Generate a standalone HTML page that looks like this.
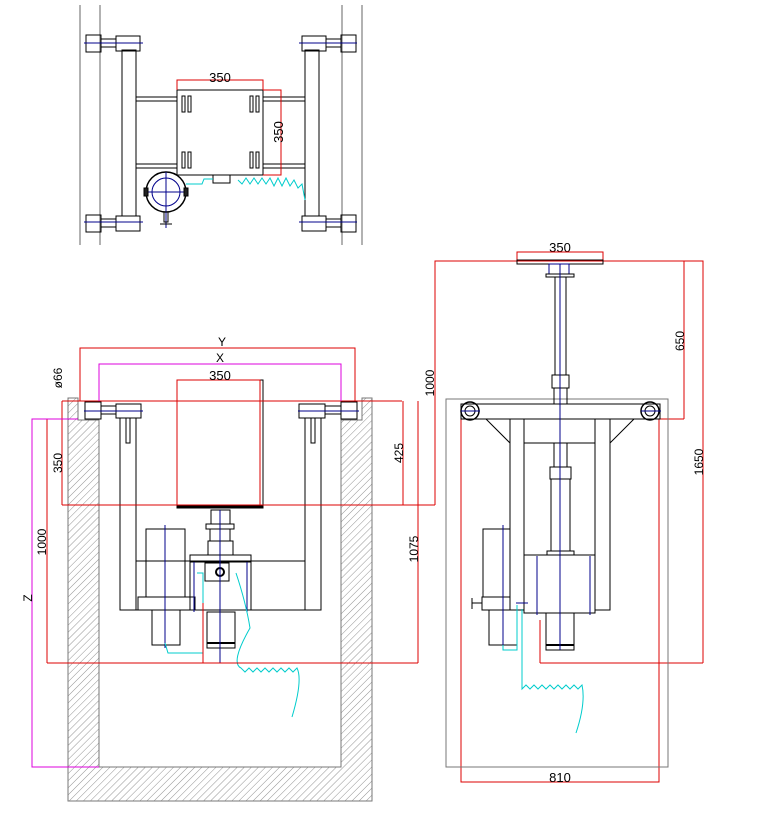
<!DOCTYPE html>
<html><head><meta charset="utf-8"><style>html,body{margin:0;padding:0;background:#fff}svg{display:block}</style></head><body>
<svg width="779" height="818" viewBox="0 0 779 818" xmlns="http://www.w3.org/2000/svg" font-family="Liberation Sans, sans-serif">
<defs>
<pattern id="h" width="5" height="5" patternUnits="userSpaceOnUse" patternTransform="rotate(45)">
<line x1="0" y1="0" x2="0" y2="5" stroke="#777" stroke-width="0.8"/></pattern>
</defs>
<rect width="779" height="818" fill="#fff"/>
<g fill="none" stroke="#000" stroke-width="1">
<!-- ===== TOP VIEW ===== -->
<g stroke="#666"><line x1="80" y1="5" x2="80" y2="245"/><line x1="100" y1="5" x2="100" y2="245"/><line x1="342" y1="5" x2="342" y2="245"/><line x1="362" y1="5" x2="362" y2="245"/></g>
<rect x="122" y="50" width="14" height="166"/><rect x="305" y="50" width="14" height="166"/>
<rect x="136" y="97" width="169" height="4"/><rect x="136" y="164" width="169" height="4"/>
<g id="tw"><rect x="86" y="35" width="15" height="17"/><rect x="101" y="39" width="15" height="8"/><rect x="116" y="36" width="24" height="15"/></g>
<use href="#tw" y="180"/>
<use href="#tw" transform="translate(442,0) scale(-1,1)"/>
<use href="#tw" transform="translate(442,180) scale(-1,1)"/>
<g stroke="#00008b"><line x1="84" y1="43" x2="143" y2="43"/><line x1="84" y1="222" x2="143" y2="222"/><line x1="299" y1="43" x2="357" y2="43"/><line x1="299" y1="222" x2="357" y2="222"/></g>
<rect x="177" y="90" width="86" height="85" fill="#fff"/>
<g stroke-width="1"><rect x="182" y="96" width="3" height="16"/><rect x="188" y="96" width="3" height="16"/><rect x="250" y="96" width="3" height="16"/><rect x="256" y="96" width="3" height="16"/>
<rect x="182" y="152" width="3" height="16"/><rect x="188" y="152" width="3" height="16"/><rect x="250" y="152" width="3" height="16"/><rect x="256" y="152" width="3" height="16"/></g>
<rect x="213" y="175" width="17" height="8"/>
<circle cx="166" cy="192" r="20" stroke-width="1.5"/><circle cx="166" cy="192" r="14" stroke="#00008b"/>
<g stroke="#00008b"><line x1="146" y1="192" x2="186" y2="192"/><line x1="166" y1="172" x2="166" y2="228"/></g>
<rect x="144" y="188" width="4" height="8" fill="#222"/><rect x="184" y="188" width="4" height="8" fill="#222"/>
<rect x="164" y="212" width="4" height="10"/><line x1="160" y1="224" x2="172" y2="224"/>
<path d="M186 184 L202 184 L204 179 L213 179" stroke="#00cccc"/>
<path d="M238 180 l4 4 l4 -6 l4 6 l4 -6 l4 6 l4 -6 l4 6 l4 -6 l4 8 l4 -8 l4 8 l4 -8 l4 8 l4 -6 l4 8 l4 -4 l3 16" stroke="#00cccc"/>
<g stroke="#d00"><polyline points="177,90 177,80 263,80 263,90"/><polyline points="263,90 281,90 281,175 263,175"/></g>
<text x="220" y="82" font-size="13" text-anchor="middle" fill="#000" stroke="none">350</text>
<text transform="translate(283,132) rotate(-90)" font-size="13" text-anchor="middle" fill="#000" stroke="none">350</text>

<!-- ===== LEFT VIEW ===== -->
<path d="M68 398 L78 398 L78 420 L99 420 L99 767 L341 767 L341 420 L362 420 L362 398 L372 398 L372 801 L68 801 Z" fill="url(#h)" stroke="#777"/>
<rect x="177" y="380" width="86" height="125" fill="#fff"/><rect x="177" y="505" width="86" height="3" fill="#000"/>
<rect x="120" y="418" width="16" height="192"/><rect x="305" y="418" width="16" height="192"/>
<rect x="126" y="418" width="4" height="25"/><rect x="311" y="418" width="4" height="25"/>
<line x1="136" y1="561" x2="305" y2="561"/><line x1="120" y1="610" x2="321" y2="610"/>
<rect x="85" y="402" width="16" height="17"/><rect x="101" y="406" width="15" height="8"/><rect x="116" y="404" width="25" height="14"/>
<rect x="341" y="402" width="16" height="17"/><rect x="325" y="406" width="16" height="8"/><rect x="299" y="404" width="26" height="14"/>
<g stroke="#00008b"><line x1="84" y1="411" x2="143" y2="411"/><line x1="298" y1="411" x2="359" y2="411"/></g>
<!-- motor -->
<rect x="146" y="529" width="39" height="68"/><rect x="138" y="597" width="57" height="13"/><rect x="152" y="610" width="28" height="35"/>
<rect x="211" y="510" width="19" height="14"/><rect x="206" y="524" width="28" height="5"/><rect x="210" y="529" width="20" height="12"/><rect x="208" y="541" width="25" height="14"/>
<rect x="190" y="555" width="61" height="7"/><rect x="190" y="562" width="61" height="48"/>
<rect x="205" y="563" width="24" height="18"/><circle cx="220" cy="572" r="4" stroke-width="2"/>
<rect x="207" y="612" width="28" height="36"/><line x1="207" y1="643" x2="235" y2="643" stroke-width="2"/>
<g stroke="#00008b"><line x1="165" y1="525" x2="165" y2="648"/><line x1="220" y1="510" x2="220" y2="663"/><line x1="194" y1="562" x2="194" y2="612"/><line x1="247" y1="562" x2="247" y2="612"/></g>
<path d="M165 643 l3 10 l35 0 l0 -80 l-6 0" stroke="#00cccc"/>
<path d="M236 573 q10 30 14 55 q-20 35 -9 40 l4 4 l4 -4 l4 4 l4 -4 l4 4 l4 -4 l4 4 l4 -4 l4 4 l4 -4 l4 4 l4 -4 l4 4 l4 -4 q6 12 -5 49" stroke="#00cccc"/>
<!-- dims left -->
<g stroke="#d00">
<polyline points="80,401 80,348 355,348 355,401"/>
<line x1="62" y1="401" x2="402" y2="401"/><line x1="62" y1="505" x2="435" y2="505"/><line x1="62" y1="401" x2="62" y2="505"/>
<polyline points="177,505 177,380 260,380 260,505"/>
<line x1="403" y1="401" x2="403" y2="505"/><line x1="418" y1="401" x2="418" y2="663"/>
<line x1="47" y1="663" x2="418" y2="663"/><line x1="47" y1="419" x2="47" y2="663"/><line x1="47" y1="419" x2="78" y2="419"/>
<polyline points="435,505 435,261 703,261 703,663"/>
<line x1="684" y1="261" x2="684" y2="419"/><line x1="659" y1="419" x2="684" y2="419"/>
<polyline points="461,419 461,782 659,782 659,419"/>
<line x1="540" y1="663" x2="703" y2="663"/><line x1="540" y1="620" x2="540" y2="663"/><line x1="203" y1="603" x2="203" y2="663"/>
</g>
<g stroke="#d0d"><polyline points="99,401 99,364 341,364 341,401"/><polyline points="99,767 32,767 32,419 78,419"/></g>
<g fill="#000" stroke="none" font-size="12">
<text x="222" y="346" text-anchor="middle">Y</text><text x="220" y="362" text-anchor="middle">X</text>
<text x="220" y="380" text-anchor="middle" font-size="13">350</text>
<text transform="translate(62,378) rotate(-90)" text-anchor="middle">ø66</text>
<text transform="translate(62,463) rotate(-90)" text-anchor="middle">350</text>
<text transform="translate(46,542) rotate(-90)" text-anchor="middle">1000</text>
<text transform="translate(32,598) rotate(-90)" text-anchor="middle">Z</text>
<text transform="translate(403,453) rotate(-90)" text-anchor="middle">425</text>
<text transform="translate(418,549) rotate(-90)" text-anchor="middle">1075</text>
<text transform="translate(434,383) rotate(-90)" text-anchor="middle">1000</text>
<text transform="translate(684,341) rotate(-90)" text-anchor="middle">650</text>
<text transform="translate(703,462) rotate(-90)" text-anchor="middle">1650</text>
<text x="560" y="252" text-anchor="middle" font-size="13">350</text>
<text x="560" y="782" text-anchor="middle" font-size="13">810</text>
</g>

<!-- ===== RIGHT VIEW ===== -->
<rect x="446" y="399" width="222" height="368" stroke="#777"/>
<polyline points="517,260 517,252 603,252 603,260" stroke="#d00"/>
<rect x="517" y="260" width="86" height="4"/>
<rect x="549" y="264" width="20" height="10" stroke="#00008b"/><rect x="546" y="274" width="28" height="3"/>
<rect x="555" y="277" width="11" height="98"/><rect x="552" y="375" width="17" height="13"/><rect x="554" y="388" width="13" height="16"/>
<rect x="461" y="404" width="199" height="15"/>
<circle cx="470" cy="411" r="9" stroke-width="1.5"/><circle cx="470" cy="411" r="5"/><circle cx="650" cy="411" r="9" stroke-width="1.5"/><circle cx="650" cy="411" r="5"/>
<line x1="486" y1="419" x2="510" y2="443"/><line x1="634" y1="419" x2="610" y2="443"/>
<rect x="510" y="419" width="14" height="191"/><rect x="595" y="419" width="15" height="191"/>
<line x1="524" y1="443" x2="595" y2="443"/>
<rect x="554" y="443" width="13" height="24"/><rect x="550" y="467" width="21" height="12"/><rect x="551" y="479" width="19" height="72"/><rect x="547" y="551" width="27" height="4"/>
<rect x="524" y="555" width="71" height="58"/><rect x="546" y="613" width="28" height="37"/><line x1="546" y1="645" x2="574" y2="645" stroke-width="2"/>
<rect x="483" y="529" width="27" height="68"/><rect x="482" y="597" width="28" height="13"/><rect x="489" y="610" width="28" height="35"/>
<line x1="472" y1="603" x2="482" y2="603"/><line x1="472" y1="598" x2="472" y2="609"/>
<g stroke="#00008b"><line x1="560" y1="264" x2="560" y2="650"/><line x1="537" y1="556" x2="537" y2="615"/><line x1="590" y1="556" x2="590" y2="615"/><line x1="503" y1="525" x2="503" y2="650"/>
<line x1="461" y1="411" x2="480" y2="411"/><line x1="641" y1="411" x2="661" y2="411"/><line x1="516" y1="603" x2="528" y2="603"/></g>
<path d="M503 645 l0 5 l14 0 l0 -45" stroke="#00cccc"/>
<path d="M522 609 l0 80 l4 -4 l4 4 l4 -4 l4 4 l4 -4 l4 4 l4 -4 l4 4 l4 -4 l4 4 l4 -4 l4 4 l4 -4 l4 4 l4 -4 q4 18 -6 48" stroke="#00cccc"/>
</g>
</svg>
</body></html>
